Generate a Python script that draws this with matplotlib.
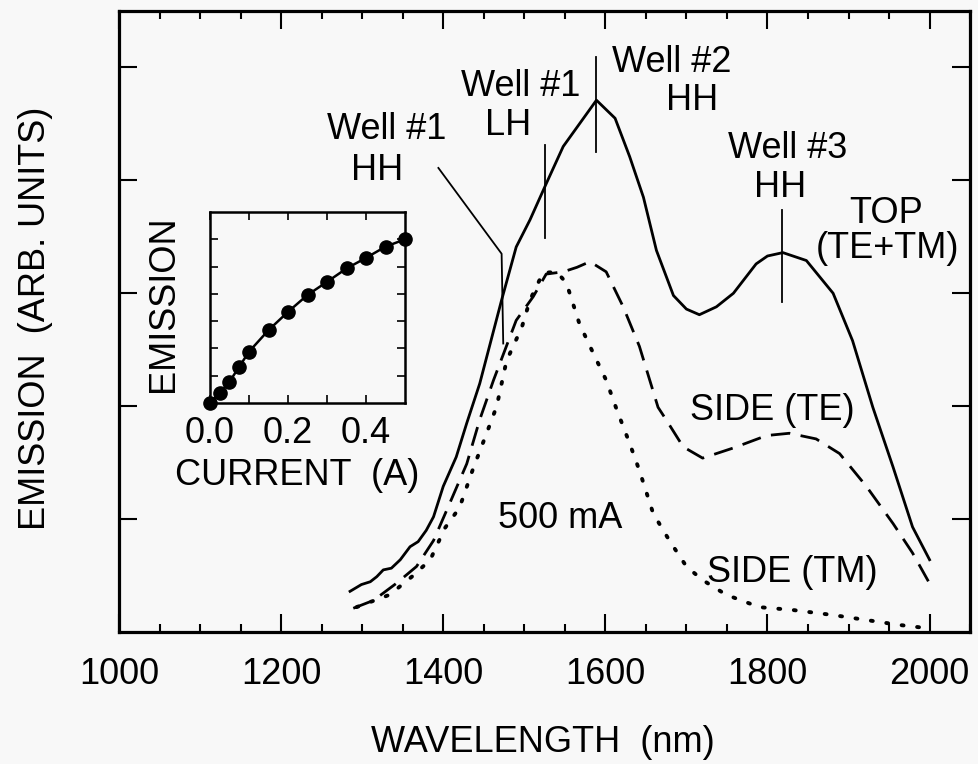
import matplotlib
matplotlib.use("Agg")
import matplotlib.pyplot as plt
from matplotlib.ticker import MultipleLocator

plt.rcParams["font.family"] = ["Liberation Sans", "DejaVu Sans"]
plt.rcParams["font.size"] = 26

# emission spectra at 500 mA (arbitrary units)
top_wl = [1285, 1299, 1310, 1318, 1326, 1336, 1347, 1359, 1369, 1379, 1388,
          1400, 1416, 1429, 1445, 1472, 1490, 1507, 1527, 1548, 1568, 1589,
          1612, 1630, 1647, 1663, 1684, 1700, 1716, 1737, 1758, 1786, 1800,
          1819, 1848, 1881, 1905, 1930, 1955, 1979, 2000]
top_em = [0.36, 0.42, 0.445, 0.49, 0.55, 0.565, 0.64, 0.755, 0.80, 0.90, 1.02,
          1.29, 1.55, 1.85, 2.20, 2.94, 3.41, 3.65, 3.97, 4.30, 4.50, 4.71,
          4.55, 4.21, 3.85, 3.38, 2.98, 2.86, 2.81, 2.88, 3.00, 3.26, 3.33,
          3.36, 3.29, 3.00, 2.58, 1.99, 1.46, 0.93, 0.64]

te_wl = [1289, 1314, 1342, 1367, 1388, 1408, 1429, 1445, 1462, 1490, 1511,
         1527, 1548, 1565, 1581, 1601, 1622, 1642, 1665, 1675, 1696, 1720,
         1758, 1799, 1827, 1860, 1889, 1922, 1955, 1979, 2000]
te_em = [0.21, 0.28, 0.43, 0.58, 0.81, 1.14, 1.49, 1.88, 2.23, 2.76, 2.97,
         3.17, 3.19, 3.23, 3.28, 3.19, 2.88, 2.53, 1.99, 1.88, 1.64, 1.54,
         1.63, 1.74, 1.76, 1.71, 1.58, 1.29, 0.96, 0.70, 0.43]

tm_wl = [1293, 1334, 1363, 1384, 1402, 1420, 1437, 1453, 1466, 1478, 1497,
         1507, 1523, 1540, 1552, 1568, 1585, 1601, 1614, 1630, 1642, 1659,
         1679, 1700, 1720, 1749, 1790, 1831, 1881, 1922, 1963, 1998]
tm_em = [0.22, 0.33, 0.50, 0.64, 0.92, 1.10, 1.45, 1.75, 2.00, 2.40, 2.70,
         2.94, 3.18, 3.19, 3.09, 2.73, 2.47, 2.23, 1.97, 1.67, 1.43, 1.05,
         0.81, 0.58, 0.46, 0.33, 0.22, 0.195, 0.15, 0.106, 0.062, 0.033]

# light-current curve for the inset
current = [0.0, 0.025, 0.05, 0.075, 0.1, 0.15, 0.2, 0.25, 0.3, 0.35, 0.4, 0.45, 0.5]
emission = [0.0, 0.36, 0.78, 1.33, 1.88, 2.67, 3.34, 3.96, 4.44, 4.93, 5.32, 5.73, 6.0]

# peak markers: (x list, y list)
well1_hh_line = ([1394, 1472, 1474], [4.11, 3.35, 2.555])
well1_lh_line = ([1526, 1526], [4.31, 3.49])
well2_hh_line = ([1589, 1589], [5.09, 4.25])
well3_hh_line = ([1818, 1818], [3.74, 2.92])

# text labels: (text, x, baseline y)
labels = [
    ("Well #1", 1330, 4.37), ("HH", 1319, 4.00),
    ("Well #1", 1496, 4.75), ("LH", 1480, 4.40),
    ("Well #2", 1682, 4.96), ("HH", 1707, 4.62),
    ("Well #3", 1825, 4.20), ("HH", 1816, 3.85),
    ("TOP", 1946, 3.62), ("(TE+TM)", 1948, 3.31),
    ("SIDE (TE)", 1806, 1.88),
    ("SIDE (TM)", 1831, 0.44),
    ("500 mA", 1544, 0.92),
]

bg = "#f8f8f8"
fig = plt.figure(figsize=(9.79, 7.64), dpi=100, facecolor=bg)
ax = fig.add_axes([0.1216, 0.1728, 0.8693, 0.8128], facecolor=bg)

ax.plot(top_wl, top_em, color="black", lw=2.0)
ax.plot(te_wl, te_em, color="black", lw=2.0, dashes=(7, 3.8))
ax.plot(tm_wl, tm_em, color="black", lw=2.8, dashes=(0.5, 3.5),
        dash_capstyle="round")

for xs, ys in [well1_hh_line, well1_lh_line, well2_hh_line, well3_hh_line]:
    ax.plot(xs, ys, color="black", lw=1.3)

for txt, x, y in labels:
    ax.text(x, y, txt, ha="center", va="baseline")

ax.set_xlim(1000, 2050)
ax.set_ylim(0, 5.5)
ax.set_xticks([1000, 1200, 1400, 1600, 1800, 2000])
ax.xaxis.set_minor_locator(MultipleLocator(50))
ax.set_yticks([1, 2, 3, 4, 5])
ax.set_yticklabels([])
ax.tick_params(which="both", direction="in", top=True, right=True, width=1.5)
ax.tick_params(which="major", length=13)
ax.tick_params(which="minor", length=5.5)
ax.tick_params(axis="x", pad=18)
for sp in ax.spines.values():
    sp.set_linewidth(2.3)

ax.set_xlabel("WAVELENGTH  (nm)")
ax.xaxis.set_label_coords(0.498, -0.15)
ax.set_ylabel("EMISSION  (ARB. UNITS)")
ax.yaxis.set_label_coords(-0.078, 0.505)

# inset: emission vs drive current
ins = fig.add_axes([0.2145, 0.4725, 0.1992, 0.25], facecolor=bg)
ins.plot(current, emission, color="black", lw=1.8, marker="o", ms=9.5,
         clip_on=False, zorder=3)
ins.set_xlim(0, 0.5)
ins.set_ylim(0, 7)
ins.set_xticks([0.0, 0.2, 0.4])
ins.set_xticklabels(["0.0", "0.2", "0.4"])
ins.set_xticks([0.1, 0.3], minor=True)
ins.set_yticks([1, 2, 3, 4, 5, 6])
ins.set_yticklabels([])
ins.tick_params(which="both", direction="in", top=True, right=True,
                length=6, width=1.2)
ins.tick_params(axis="x", pad=9)
for sp in ins.spines.values():
    sp.set_linewidth(1.8)
ins.set_xlabel("CURRENT  (A)")
ins.xaxis.set_label_coords(0.446, -0.29)
ins.set_ylabel("EMISSION")
ins.yaxis.set_label_coords(-0.15, 0.52)

fig.savefig("out.png", dpi=100, facecolor=bg)
